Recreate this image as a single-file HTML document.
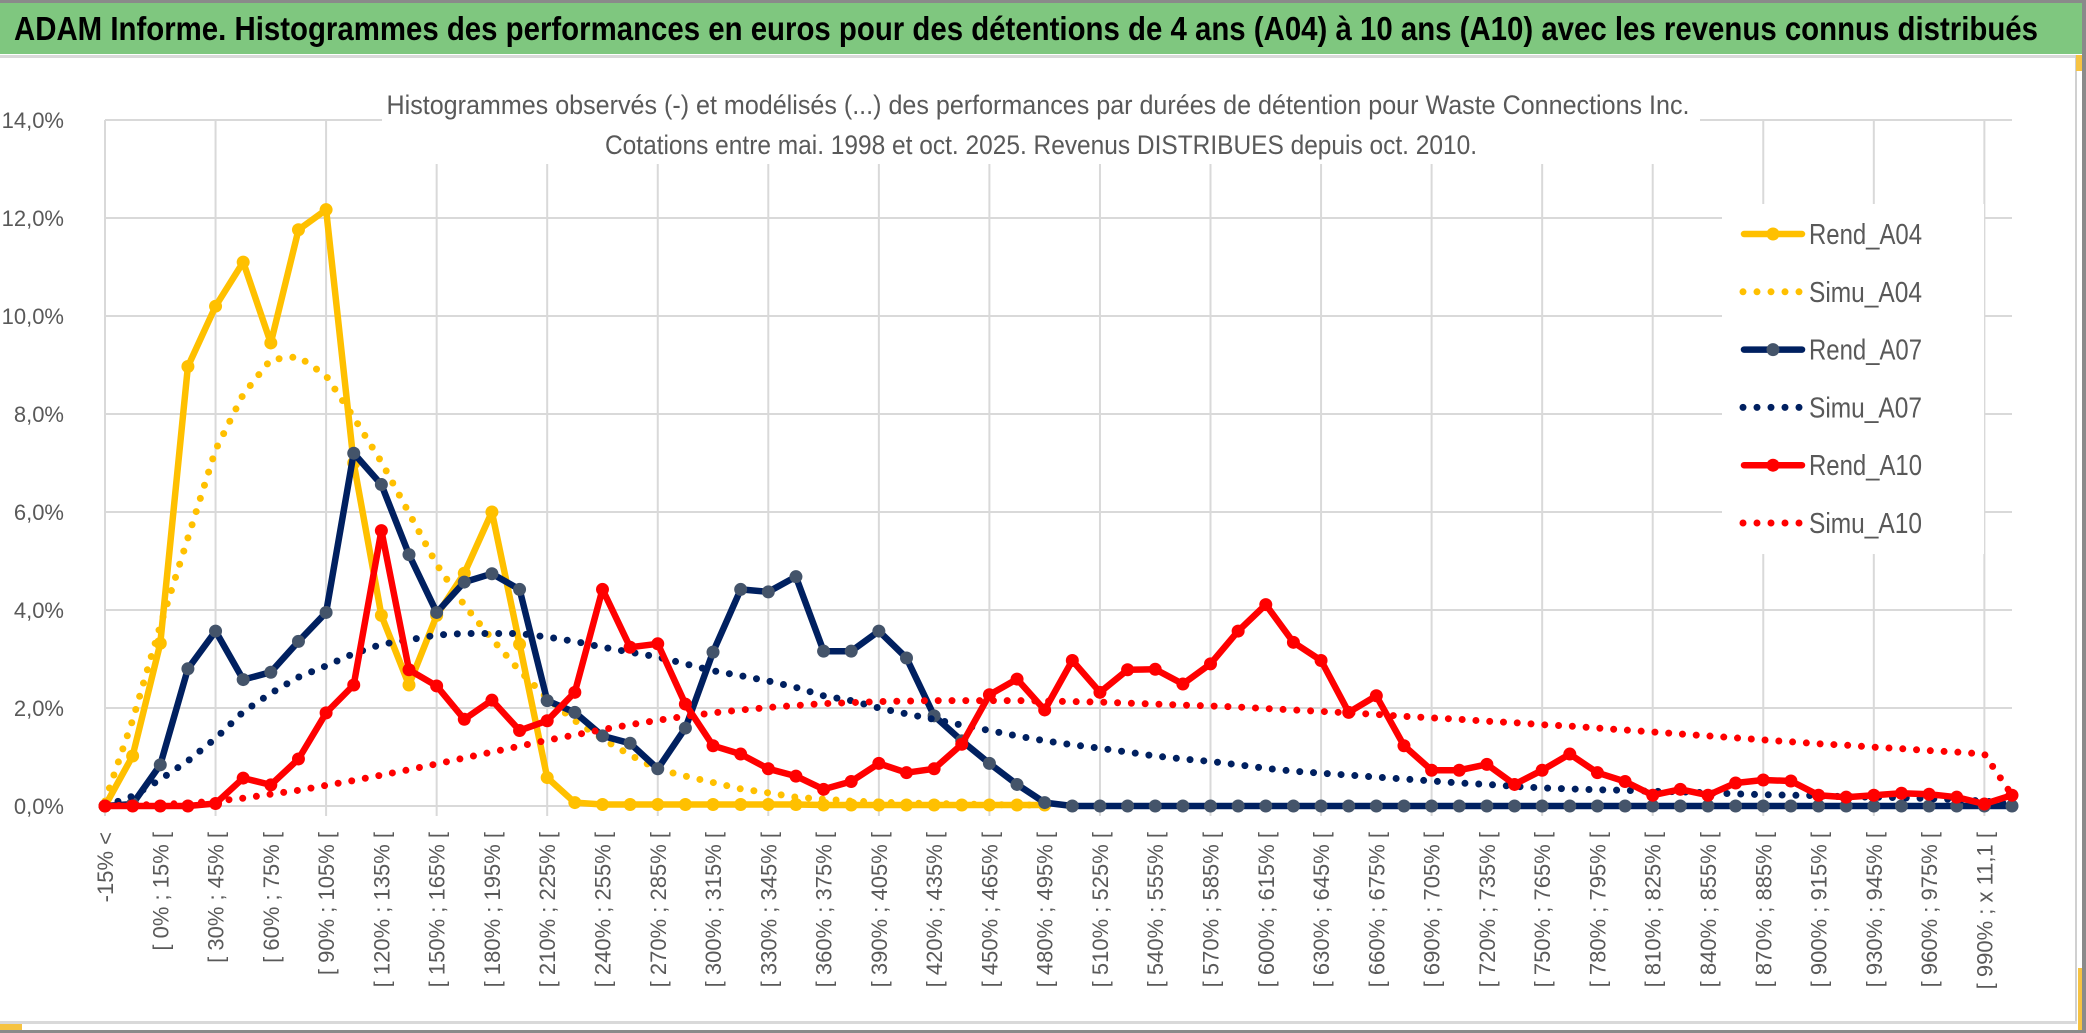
<!DOCTYPE html>
<html><head><meta charset="utf-8"><style>
html,body{margin:0;padding:0;background:#fff;}
svg{display:block;}
text{font-family:"Liberation Sans",sans-serif;}
</style></head><body>
<svg id="chart" xmlns="http://www.w3.org/2000/svg" width="2086" height="1033" viewBox="0 0 2086 1033">
<rect x="0" y="0" width="2086" height="1033" fill="#fff"/>
<rect x="0" y="0" width="2086" height="3" fill="#8a8a8a"/>
<rect x="0" y="3" width="2086" height="51" fill="#7fc77f"/>
<text x="14" y="40" font-size="33" font-weight="bold" fill="#000" textLength="2024" lengthAdjust="spacingAndGlyphs">ADAM Informe. Histogrammes des performances en euros pour des détentions de 4 ans (A04) à 10 ans (A10) avec les revenus connus distribués</text>
<rect x="0" y="55" width="2086" height="3" fill="#d9d9d9"/>
<rect x="2075" y="55" width="2" height="968" fill="#d0d0d0"/>
<rect x="2082" y="0" width="4" height="1033" fill="#8a8a8a"/>
<rect x="0" y="1021" width="2077" height="3" fill="#d9d9d9"/>
<rect x="0" y="1030" width="2086" height="3" fill="#8a8a8a"/>
<rect x="0" y="1024" width="22" height="6" fill="#f6c342"/>
<rect x="2078" y="968" width="4" height="62" fill="#f6c342"/>
<rect x="2076" y="55" width="6" height="16" fill="#f6c342"/>
<g id="grid"></g>
<g id="series"></g>
<rect x="382" y="82" width="1318" height="82" fill="#fff"/>
<text x="1038" y="114" font-size="27" fill="#595959" text-anchor="middle" textLength="1303" lengthAdjust="spacingAndGlyphs">Histogrammes observés (-) et modélisés (...) des performances par durées de détention pour Waste Connections Inc.</text>
<text x="1041" y="154" font-size="27" fill="#595959" text-anchor="middle" textLength="872" lengthAdjust="spacingAndGlyphs">Cotations entre mai. 1998 et oct. 2025. Revenus DISTRIBUES depuis oct. 2010.</text>
<g id="yaxis"></g>
<g id="xaxis"></g>
<g id="legend"></g>
</svg>
<script>
const categories = [];
for (let i = 0; i < 70; i++) {
  if (i === 0) categories.push('-15% <');
  else if (i === 1) categories.push('[ -15% ; 0% [');
  else if (i === 68) categories.push('[ 990% ; x 11,1 [');
  else if (i === 69) categories.push('x 11,1 <');
  else categories.push('[ ' + ((i - 2) * 15) + '% ; ' + ((i - 1) * 15) + '% [');
}
const yTicks = [0, 2, 4, 6, 8, 10, 12, 14];
const yTickLabels = ['0,0%', '2,0%', '4,0%', '6,0%', '8,0%', '10,0%', '12,0%', '14,0%'];
const rendA04 = [0,1.02,3.32,8.97,10.2,11.1,9.45,11.76,12.17,7.0,3.89,2.47,3.89,4.75,6.0,3.3,0.58,0.07,0.03,0.03,0.03,0.03,0.03,0.03,0.03,0.03,0.02,0.02,0.02,0.02,0.02,0.02,0.02,0.02,0.02,null,null,null,null,null,null,null,null,null,null,null,null,null,null,null,null,null,null,null,null,null,null,null,null,null,null,null,null,null,null,null,null,null,null,null];
const simuA04 = [0.1,1.75,3.68,5.47,7.27,8.4,9.11,9.17,8.78,7.93,7.02,5.98,4.93,4.1,3.41,2.76,2.2,1.74,1.37,1.04,0.75,0.61,0.48,0.35,0.27,0.18,0.14,0.1,0.08,0.06,0.05,0.04,0.03,0.02,0.02,null,null,null,null,null,null,null,null,null,null,null,null,null,null,null,null,null,null,null,null,null,null,null,null,null,null,null,null,null,null,null,null,null,null,null];
const rendA07 = [0,0.04,0.84,2.8,3.57,2.58,2.73,3.36,3.95,7.2,6.56,5.13,3.95,4.57,4.74,4.42,2.15,1.91,1.43,1.28,0.76,1.59,3.14,4.42,4.37,4.68,3.16,3.16,3.57,3.02,1.84,1.33,0.87,0.44,0.07,0,0,0,0,0,0,0,0,0,0,0,0,0,0,0,0,0,0,0,0,0,0,0,0,0,0,0,0,0,0,0,0,0,0,0];
const simuA07 = [0,0.2,0.54,0.92,1.38,1.92,2.3,2.63,2.86,3.11,3.3,3.39,3.49,3.52,3.52,3.52,3.45,3.36,3.24,3.14,3.04,2.9,2.76,2.66,2.55,2.42,2.25,2.15,2.0,1.88,1.77,1.65,1.54,1.43,1.33,1.25,1.18,1.1,1.02,0.96,0.91,0.84,0.77,0.71,0.67,0.63,0.59,0.55,0.51,0.47,0.44,0.4,0.37,0.35,0.33,0.32,0.3,0.29,0.27,0.25,0.23,0.22,0.21,0.19,0.18,0.17,0.15,0.13,0.1,0.05];
const rendA10 = [0,0,0,0,0.05,0.57,0.43,0.96,1.9,2.47,5.62,2.78,2.45,1.77,2.16,1.54,1.74,2.32,4.42,3.24,3.31,2.08,1.23,1.06,0.76,0.61,0.34,0.5,0.87,0.68,0.76,1.26,2.27,2.59,1.96,2.97,2.32,2.78,2.79,2.49,2.9,3.57,4.11,3.34,2.97,1.91,2.25,1.23,0.73,0.73,0.85,0.44,0.73,1.06,0.68,0.5,0.22,0.34,0.22,0.47,0.53,0.51,0.22,0.18,0.22,0.26,0.24,0.18,0.04,0.22];
const simuA10 = [0,0.02,0.03,0.06,0.1,0.16,0.24,0.32,0.42,0.52,0.63,0.74,0.86,0.98,1.1,1.22,1.34,1.45,1.56,1.66,1.75,1.83,1.9,1.96,2.01,2.05,2.09,2.11,2.13,2.14,2.15,2.15,2.15,2.15,2.14,2.13,2.12,2.1,2.08,2.06,2.04,2.02,1.99,1.96,1.93,1.9,1.87,1.83,1.8,1.77,1.73,1.7,1.66,1.63,1.59,1.55,1.51,1.47,1.43,1.39,1.35,1.31,1.27,1.24,1.2,1.17,1.13,1.1,1.06,0.22];
const seriesNames = ['Rend_A04', 'Simu_A04', 'Rend_A07', 'Simu_A07', 'Rend_A10', 'Simu_A10'];

const NS = 'http://www.w3.org/2000/svg';
const X0 = 105, X1 = 2012, Y0 = 806, PER = 49;
function xPos(i) { return X0 + i * (X1 - X0) / (categories.length - 1); }
function yPos(v) { return Y0 - v * PER; }
function mk(tag, attrs, parent) {
  const el = document.createElementNS(NS, tag);
  for (const k in attrs) el.setAttribute(k, attrs[k]);
  parent.appendChild(el);
  return el;
}
const grid = document.getElementById('grid');
yTicks.forEach(function (t) {
  const l = mk('line', {x1: X0, x2: X1, y1: yPos(t), y2: yPos(t), stroke: '#d9d9d9', 'stroke-width': 2}, grid);
  
  
});
for (let i = 0; i < categories.length; i += 4) {
  const l = mk('line', {x1: xPos(i), x2: xPos(i), y1: yPos(14), y2: Y0 + 10, stroke: '#d9d9d9', 'stroke-width': 2}, grid);
  
  
}
const yax = document.getElementById('yaxis');
yTicks.forEach(function (t, k) {
  const tx = mk('text', {x: 64, y: yPos(t) + 8, 'font-size': 22, fill: '#595959', 'text-anchor': 'end'}, yax);
  tx.textContent = yTickLabels[k];
  
  
});
const xax = document.getElementById('xaxis');
for (let i = 0; i < categories.length; i += 2) {
  const x = xPos(i) + 8, y = 832;
  const tx = mk('text', {x: x, y: y, 'font-size': 22, fill: '#595959', 'text-anchor': 'end', transform: 'rotate(-90 ' + x + ' ' + y + ')'}, xax);
  tx.textContent = categories[i];
  
  
}
const sg = document.getElementById('series');
function pathFor(vals) {
  let d = '', pen = false;
  vals.forEach(function (v, i) {
    if (v === null) { pen = false; return; }
    d += (pen ? 'L' : 'M') + xPos(i).toFixed(1) + ' ' + yPos(v).toFixed(1) + ' ';
    pen = true;
  });
  return d;
}
function solid(vals, color, marker, name) {
  const g = mk('g', {}, sg);
  
  
  const p = mk('path', {d: pathFor(vals), fill: 'none', stroke: color, 'stroke-width': 6.5, 'stroke-linejoin': 'round'}, g);
  
  
  vals.forEach(function (v, i) {
    if (v === null) return;
    const c = mk('circle', {cx: xPos(i), cy: yPos(v), r: 6.5, fill: marker}, g);
    
    
  });
}
function dotted(vals, color, name) {
  const p = mk('path', {d: pathFor(vals), fill: 'none', stroke: color, 'stroke-width': 7, 'stroke-linecap': 'round', 'stroke-dasharray': '0 13.8'}, sg);
  
  
}
solid(rendA04, '#ffc000', '#ffc000', 'rend-a04-series');
dotted(simuA04, '#ffc000', 'simu-a04-series');
solid(rendA07, '#002060', '#44546a', 'rend-a07-series');
dotted(simuA07, '#002060', 'simu-a07-series');
solid(rendA10, '#ff0000', '#ff0000', 'rend-a10-series');
dotted(simuA10, '#ff0000', 'simu-a10-series');

const lg = document.getElementById('legend');
const bg = mk('rect', {x: 1722, y: 204, width: 262, height: 350, fill: '#fff'}, lg);


const legColors = ['#ffc000', '#ffc000', '#002060', '#002060', '#ff0000', '#ff0000'];
const legMarkers = ['#ffc000', null, '#44546a', null, '#ff0000', null];
seriesNames.forEach(function (n, k) {
  const y = 234 + k * 57.8;
  const g = mk('g', {}, lg);
  
  
  if (legMarkers[k]) {
    mk('line', {x1: 1744, x2: 1802, y1: y, y2: y, stroke: legColors[k], 'stroke-width': 6.5, 'stroke-linecap': 'round'}, g);
    mk('circle', {cx: 1773, cy: y, r: 6.5, fill: legMarkers[k]}, g);
  } else {
    mk('line', {x1: 1743, x2: 1802, y1: y, y2: y, stroke: legColors[k], 'stroke-width': 7, 'stroke-linecap': 'round', 'stroke-dasharray': '0 14'}, g);
  }
  const t = mk('text', {x: 1809, y: y + 10, 'font-size': 29, fill: '#595959', textLength: 113, lengthAdjust: 'spacingAndGlyphs'}, g);
  t.textContent = n;
});
</script>
</body></html>
